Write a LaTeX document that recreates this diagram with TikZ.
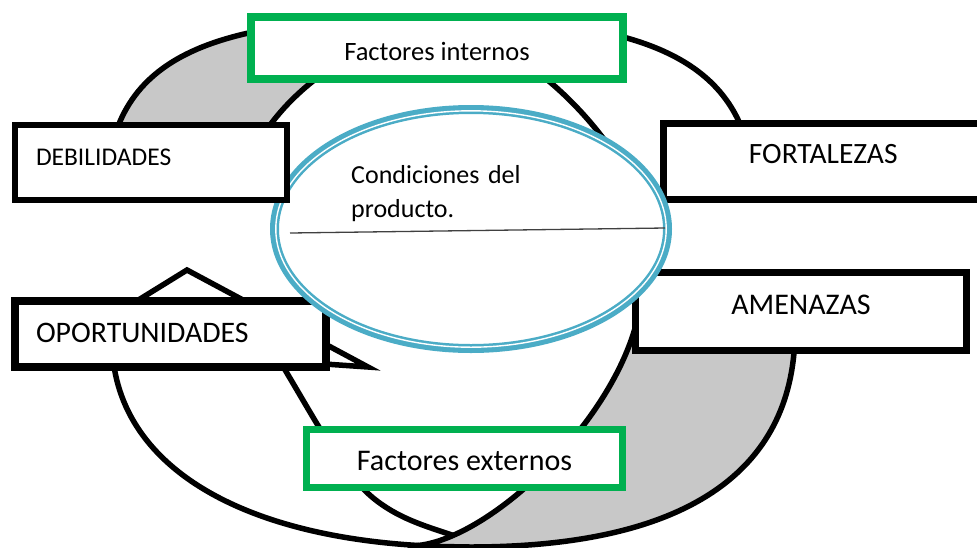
\documentclass[tikz,border=0pt]{standalone}
\usepackage{fontspec}
\setmainfont{Carlito}
\usetikzlibrary{shapes.geometric}
\definecolor{framegreen}{RGB}{0,176,80}
\definecolor{condblue}{RGB}{75,172,198}
\definecolor{bandgrey}{RGB}{200,200,200}
\tikzset{
    block/.style = {draw, rectangle, line width=7pt, fill=white,
        inner sep=0pt, align=center},
    factor/.style = {block, draw=framegreen, line width=7.5pt},
    band/.style = {draw=black, line width=5.5pt, line join=round},
    condition/.style = {draw=condblue, ellipse, line width=9pt, fill=white, inner sep=0pt}
}
\newcommand{\fs}[1]{\fontsize{#1}{36}\selectfont}

\begin{document}
\begin{tikzpicture}[x=1pt, y=-1pt]
    \useasboundingbox (0,0) rectangle (977,547);
    \clip (0,0) rectangle (977,547);
        % upper band
        \draw [band, fill=white] (430,18) .. controls (650,18) and (754,60) .. (754,200) -- (640,200)
            .. controls (610,130) and (530,45) .. (450,30) -- cycle;
        \draw [band, fill=bandgrey] (106,200) .. controls (106,60) and (200,18) .. (430,18) -- (480,19)
            .. controls (330,30) and (245,130) .. (238,200) -- cycle;
        % lower band
        \draw [band, fill=white] (112,340) .. controls (112,468) and (248,547) .. (470,547) -- (452,535)
            .. controls (425,526) and (397,518) .. (372,497) .. controls (340,470) and (310,410) .. (276,355) -- cycle;
        \draw [band, fill=bandgrey] (470,547) .. controls (697,547) and (795,464) .. (795,330) -- (642,285)
            .. controls (640,400) and (490,546) .. (410,546) -- cycle;
        \coordinate (tip) at (187,270);
        \coordinate (tipR) at (368,367);
        \coordinate (tipL) at (64,346);
        \draw [band, fill=white, line join=miter] (tip) -- (tipR) -- (tipL) -- cycle;

        \node [factor, minimum width=372pt, minimum height=62pt, text height=34pt, text depth=10pt, font=\fs{26.5}] (fint) at (437,48) {Factores internos};
        \node [factor, line width=7pt, minimum width=316pt, minimum height=58pt, text height=33pt, text depth=10pt, font=\fs{30}] (fext) at (464.5,458.5) {Factores externos};
        \node [block, minimum width=319.5pt, minimum height=76pt, text height=13pt, text depth=10pt, font=\fs{29.5}] (fort) at (823.25,161.5) {FORTALEZAS};
        \node [block, minimum width=331pt, minimum height=78pt, text height=15pt, text depth=10pt, font=\fs{30}] (amen) at (801,311.5) {AMENAZAS};
        \node [block, line width=8pt, minimum width=311pt, minimum height=66pt, text width=269pt, align=left, text height=26pt, text depth=10pt, font=\fs{29.8}] (opor) at (170.5,334) {OPORTUNIDADES};

        \node [condition, minimum width=393pt, minimum height=239pt] (cond) at (471,229) {};
        \draw [white, line width=1.4pt] (cond.center) ellipse [x radius=195.2pt, y radius=118.2pt];
        \node [block, line width=6.5pt, minimum width=272pt, minimum height=75pt, text width=230pt, align=left, text height=15pt, text depth=10pt, font=\fs{25.5}] (deb) at (151,162.5) {DEBILIDADES};

        \node [anchor=base west, text width=250pt, align=left, inner sep=0pt, font=\fontsize{26}{34}\selectfont] (condtxt) at (351,183) {Condiciones del\\producto.};
        \coordinate (lineL) at (290,233);
        \coordinate (lineR) at (665,228);
        \draw [black!75, line width=1.3pt] (lineL) -- (lineR);
\end{tikzpicture}
\end{document}
